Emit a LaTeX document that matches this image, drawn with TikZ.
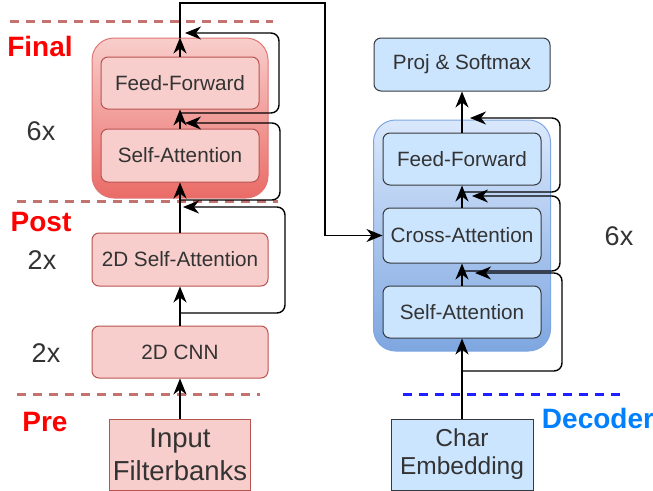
\documentclass[tikz,border=0pt]{standalone}
\usepackage{fontspec}
\setmainfont{Liberation Sans}
\usetikzlibrary{arrows.meta}

\definecolor{txtgray}{HTML}{333333}
\definecolor{encfill}{HTML}{F8CECC}
\definecolor{encline}{HTML}{B85450}
\definecolor{fintop}{HTML}{F8CECC}
\definecolor{finbot}{HTML}{EA6B66}
\definecolor{finline}{HTML}{E07774}
\definecolor{decfill}{HTML}{CCE5FF}
\definecolor{decline}{HTML}{36393D}
\definecolor{dectop}{HTML}{DAE8FC}
\definecolor{decbot}{HTML}{7EA6E0}
\definecolor{cutred}{HTML}{C4726E}
\definecolor{cutblue}{HTML}{1F1FFF}
\definecolor{decblue}{HTML}{007FFF}

\newcommand\bxfont{\fontsize{20.7}{24}\selectfont}
\newcommand\lblfont{\fontsize{28}{32}\selectfont\bfseries}
\newcommand\sidefont{\fontsize{27}{30}\selectfont}

\begin{document}
\begin{tikzpicture}[x=1pt,y=-1pt,
  lbox/.style={draw=encline,fill=encfill,line width=1pt,rounded corners=7pt,
               inner sep=0pt,text=txtgray,font=\bxfont},
  rbox/.style={lbox,draw=decline,fill=decfill},
  stack/.style={rounded corners=22pt,inner sep=0pt,line width=1pt},
  arr/.style={line width=1.4pt,-{Stealth[length=16pt,width=13pt,inset=5pt]}},
  res/.style={arr,rounded corners=8pt},
  cut/.style={dash pattern=on 9pt off 7pt,line width=3pt},
  tag/.style={font=\lblfont,text=red},
  side/.style={font=\sidefont,text=txtgray}]
\useasboundingbox (0,0) rectangle (653,490);

% encoder
\node[stack,draw=finline,top color=fintop,bottom color=finbot,
      minimum width=176,minimum height=160] (fin) at (180,118) {};
\node[lbox,minimum width=158,minimum height=52] (ffL) at (180,83) {Feed-Forward};
\node[lbox,minimum width=158,minimum height=53] (saL) at (180,155.5) {Self-Attention};
\node[lbox,minimum width=176,minimum height=53] (sa2d) at (180,259.5) {2D Self-Attention};
\node[lbox,minimum width=176,minimum height=52] (cnn) at (180,352) {2D CNN};
\node[lbox,sharp corners,minimum width=141,minimum height=71,align=center,
      font=\fontsize{27.5}{33}\selectfont] (inp) at (180,454.5) {Input\\Filterbanks};

% decoder
\node[stack,draw=decbot,top color=dectop,bottom color=decbot,
      minimum width=177,minimum height=231] (dec) at (462,235.5) {};
\node[rbox,minimum width=158,minimum height=52] (ffR) at (462,159) {Feed-Forward};
\node[rbox,minimum width=158,minimum height=55] (caR) at (462,235.5) {Cross-Attention};
\node[rbox,minimum width=158,minimum height=52] (saR) at (462,312) {Self-Attention};
\node[rbox,minimum width=176,minimum height=53] (proj) at (462,64.5) {Proj \& Softmax};
\node[rbox,sharp corners,minimum width=142,minimum height=71,align=center,
      font=\fontsize{24.5}{28}\selectfont] (chr) at (462,454.5) {Char\\Embedding};

% stage cuts
\draw[cut,cutred] (10,21) -- (273,21);
\draw[cut,cutred] (17,201) -- (278,201);
\draw[cut,cutred] (17,394) -- (260,394);
\draw[cut,cutblue] (403,394) -- (624,394);

% labels
\node[tag] (final) at (40,46) {Final};
\node[tag] (post) at (41,222) {Post};
\node[tag] (pre) at (45,422) {Pre};
\node[tag,text=decblue] (decname) at (598,418) {Decoder};
\node[side] (repL) at (41,131) {6x};
\node[side] (rep2a) at (42,260) {2x};
\node[side] (rep2b) at (46,353) {2x};
\node[side] (repR) at (619,236) {6x};

% forward path, encoder
\draw[arr] (inp) -- (cnn);
\draw[arr] (cnn) -- (sa2d);
\draw[arr] (sa2d) -- (saL);
\draw[arr] (saL) -- (ffL);
\draw[arr] (ffL) -- (fin.north);
% residuals, encoder
\coordinate (e1a) at (180,313);  \coordinate (e1b) at (183,207);
\coordinate (e2a) at (180,200);  \coordinate (e2b) at (185,123);
\coordinate (e3a) at (180,113);  \coordinate (e3b) at (185,33);
\draw[res] (e1a) -- ++(105,0) |- (e1b);
\draw[res] (e2a) -- ++(100,0) |- (e2b);
\draw[res] (e3a) -- ++(99,0) |- (e3b);

% memory into cross-attention
\coordinate (bend) at (325,3);
\draw[arr] (fin.north) |- (bend) |- (caR.west);

% forward path, decoder
\draw[arr] (chr) -- (saR);
\draw[arr] (saR) -- (caR);
\draw[arr] (caR) -- (ffR);
\draw[arr] (ffR) -- (proj);
% residuals, decoder
\coordinate (d1a) at (462,371);  \coordinate (d1b) at (475,273);
\coordinate (d2a) at (462,271);  \coordinate (d2b) at (472,196);
\coordinate (d3a) at (462,192);  \coordinate (d3b) at (470,118);
\draw[res] (d1a) -- ++(100,0) |- (d1b);
\draw[res] (d2a) -- ++(98,0) |- (d2b);
\draw[res] (d3a) -- ++(98,0) |- (d3b);
\end{tikzpicture}
\end{document}
